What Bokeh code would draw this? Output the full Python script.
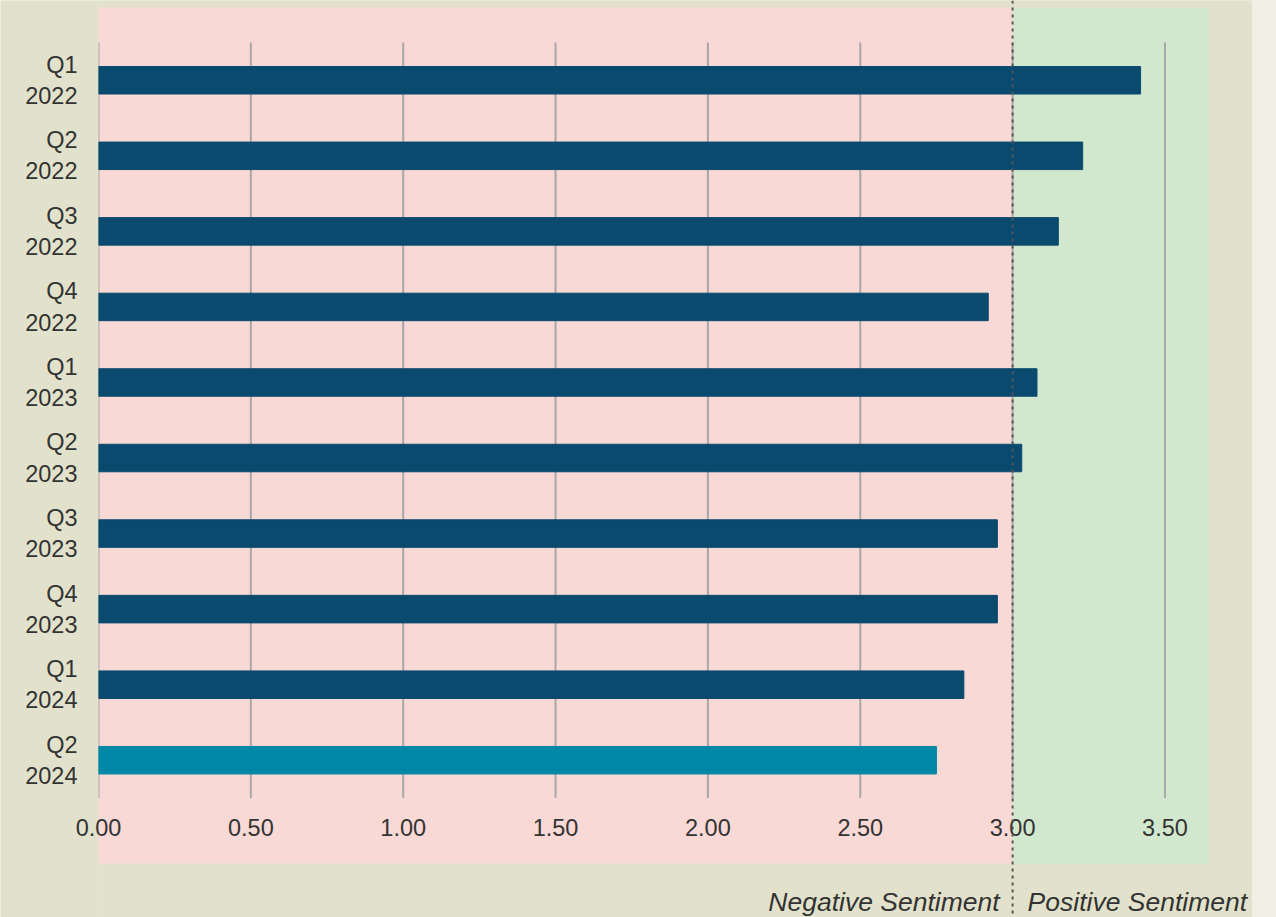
from bokeh.plotting import figure
from bokeh.models import (BoxAnnotation, Span, Label, FixedTicker,
                          NumeralTickFormatter, Range1d)
from bokeh.layouts import column
from bokeh.embed import file_html
from bokeh.resources import INLINE

# Quarterly sentiment scores (top to bottom)
quarters = ["Q1\n2022", "Q2\n2022", "Q3\n2022", "Q4\n2022",
            "Q1\n2023", "Q2\n2023", "Q3\n2023", "Q4\n2023",
            "Q1\n2024", "Q2\n2024"]
scores = [3.42, 3.23, 3.15, 2.92, 3.08, 3.03, 2.95, 2.95, 2.84, 2.75]
bar_colors = ["#0b4a6f"] * 9 + ["#0088a6"]

x_ticks = [0.0, 0.5, 1.0, 1.5, 2.0, 2.5, 3.0, 3.5]
neutral = 3.0
zone_end = 3.643

FONT = "Liberation Sans"
TEXT = "#333333"
BG = "#e2e2cc"

W, H = 1252, 917
LEFT = 98                 # width kept for the quarter labels
PX_PER_UNIT = 304.7       # horizontal scale
BAND = 75.55              # height of one quarter's row
ROWS_TOP, ROWS_BOTTOM = 42, 797.5

n = len(quarters)
y_pos = list(range(n - 1, -1, -1))          # first quarter on top

y_end = (n - 0.5) + ROWS_TOP / BAND
y_start = -0.5 - (H - ROWS_BOTTOM) / BAND
x_end = (W - LEFT) / PX_PER_UNIT

p = figure(width=W, height=H, output_backend="svg", toolbar_location=None,
           x_range=Range1d(0, x_end), y_range=Range1d(y_start, y_end),
           min_border_left=LEFT, min_border_right=0, min_border_top=0,
           min_border_bottom=0)
p.background_fill_color = BG
p.border_fill_color = BG
p.outline_line_color = None

# negative / positive zones
zone_top = y_end - 7 / BAND
zone_bottom = y_start + 54 / BAND
p.add_layout(BoxAnnotation(left=-0.001, right=neutral, bottom=zone_bottom, top=zone_top,
                           fill_color="#f8d9d5", fill_alpha=1, line_color=None,
                           level="image"))
p.add_layout(BoxAnnotation(left=neutral, right=zone_end, bottom=zone_bottom, top=zone_top,
                           fill_color="#d2e8ce", fill_alpha=1, line_color=None,
                           level="image"))

# vertical grid lines limited to the rows
p.segment(x0=x_ticks, x1=x_ticks, y0=-0.5, y1=n - 0.5,
          line_color="#a8a8a8", line_width=2, level="underlay")
p.xgrid.visible = False
p.ygrid.visible = False

p.hbar(y=y_pos, right=scores, left=0, height=0.364, color=bar_colors)

# neutral divider through the whole height
p.add_layout(Span(location=neutral, dimension="height", line_color="#555555",
                  line_width=2, line_dash="3 4"))

label_y = y_start + 16 / BAND
p.add_layout(Label(x=neutral, y=label_y, x_offset=-13, text="Negative Sentiment",
                   text_align="right", text_baseline="alphabetic",
                   text_font=FONT, text_font_style="italic",
                   text_font_size="26.5px", text_color=TEXT))
p.add_layout(Label(x=neutral, y=label_y, x_offset=15, text="Positive Sentiment",
                   text_align="left", text_baseline="alphabetic",
                   text_font=FONT, text_font_style="italic",
                   text_font_size="26.5px", text_color=TEXT))

p.xaxis.ticker = FixedTicker(ticks=x_ticks)
p.xaxis.formatter = NumeralTickFormatter(format="0.00")
p.yaxis.ticker = FixedTicker(ticks=y_pos)
p.yaxis.major_label_overrides = {y: q for y, q in zip(y_pos, quarters)}

for ax in (p.xaxis, p.yaxis):
    ax.axis_line_color = None
    ax.major_tick_line_color = None
    ax.minor_tick_line_color = None
    ax.major_tick_out = 0
    ax.major_tick_in = 0
    ax.minor_tick_out = 0
    ax.major_label_text_font = FONT
    ax.major_label_text_font_size = "23.5px"
    ax.major_label_text_color = TEXT

# tick labels sit inside the zone band, just under the rows
p.xaxis.major_label_standoff = -99
p.yaxis.major_label_standoff = 21

page = column(p, width=1276, height=917, styles={"background-color": "#f0f0e6"})

open("out.html", "w").write(file_html(page, INLINE))
